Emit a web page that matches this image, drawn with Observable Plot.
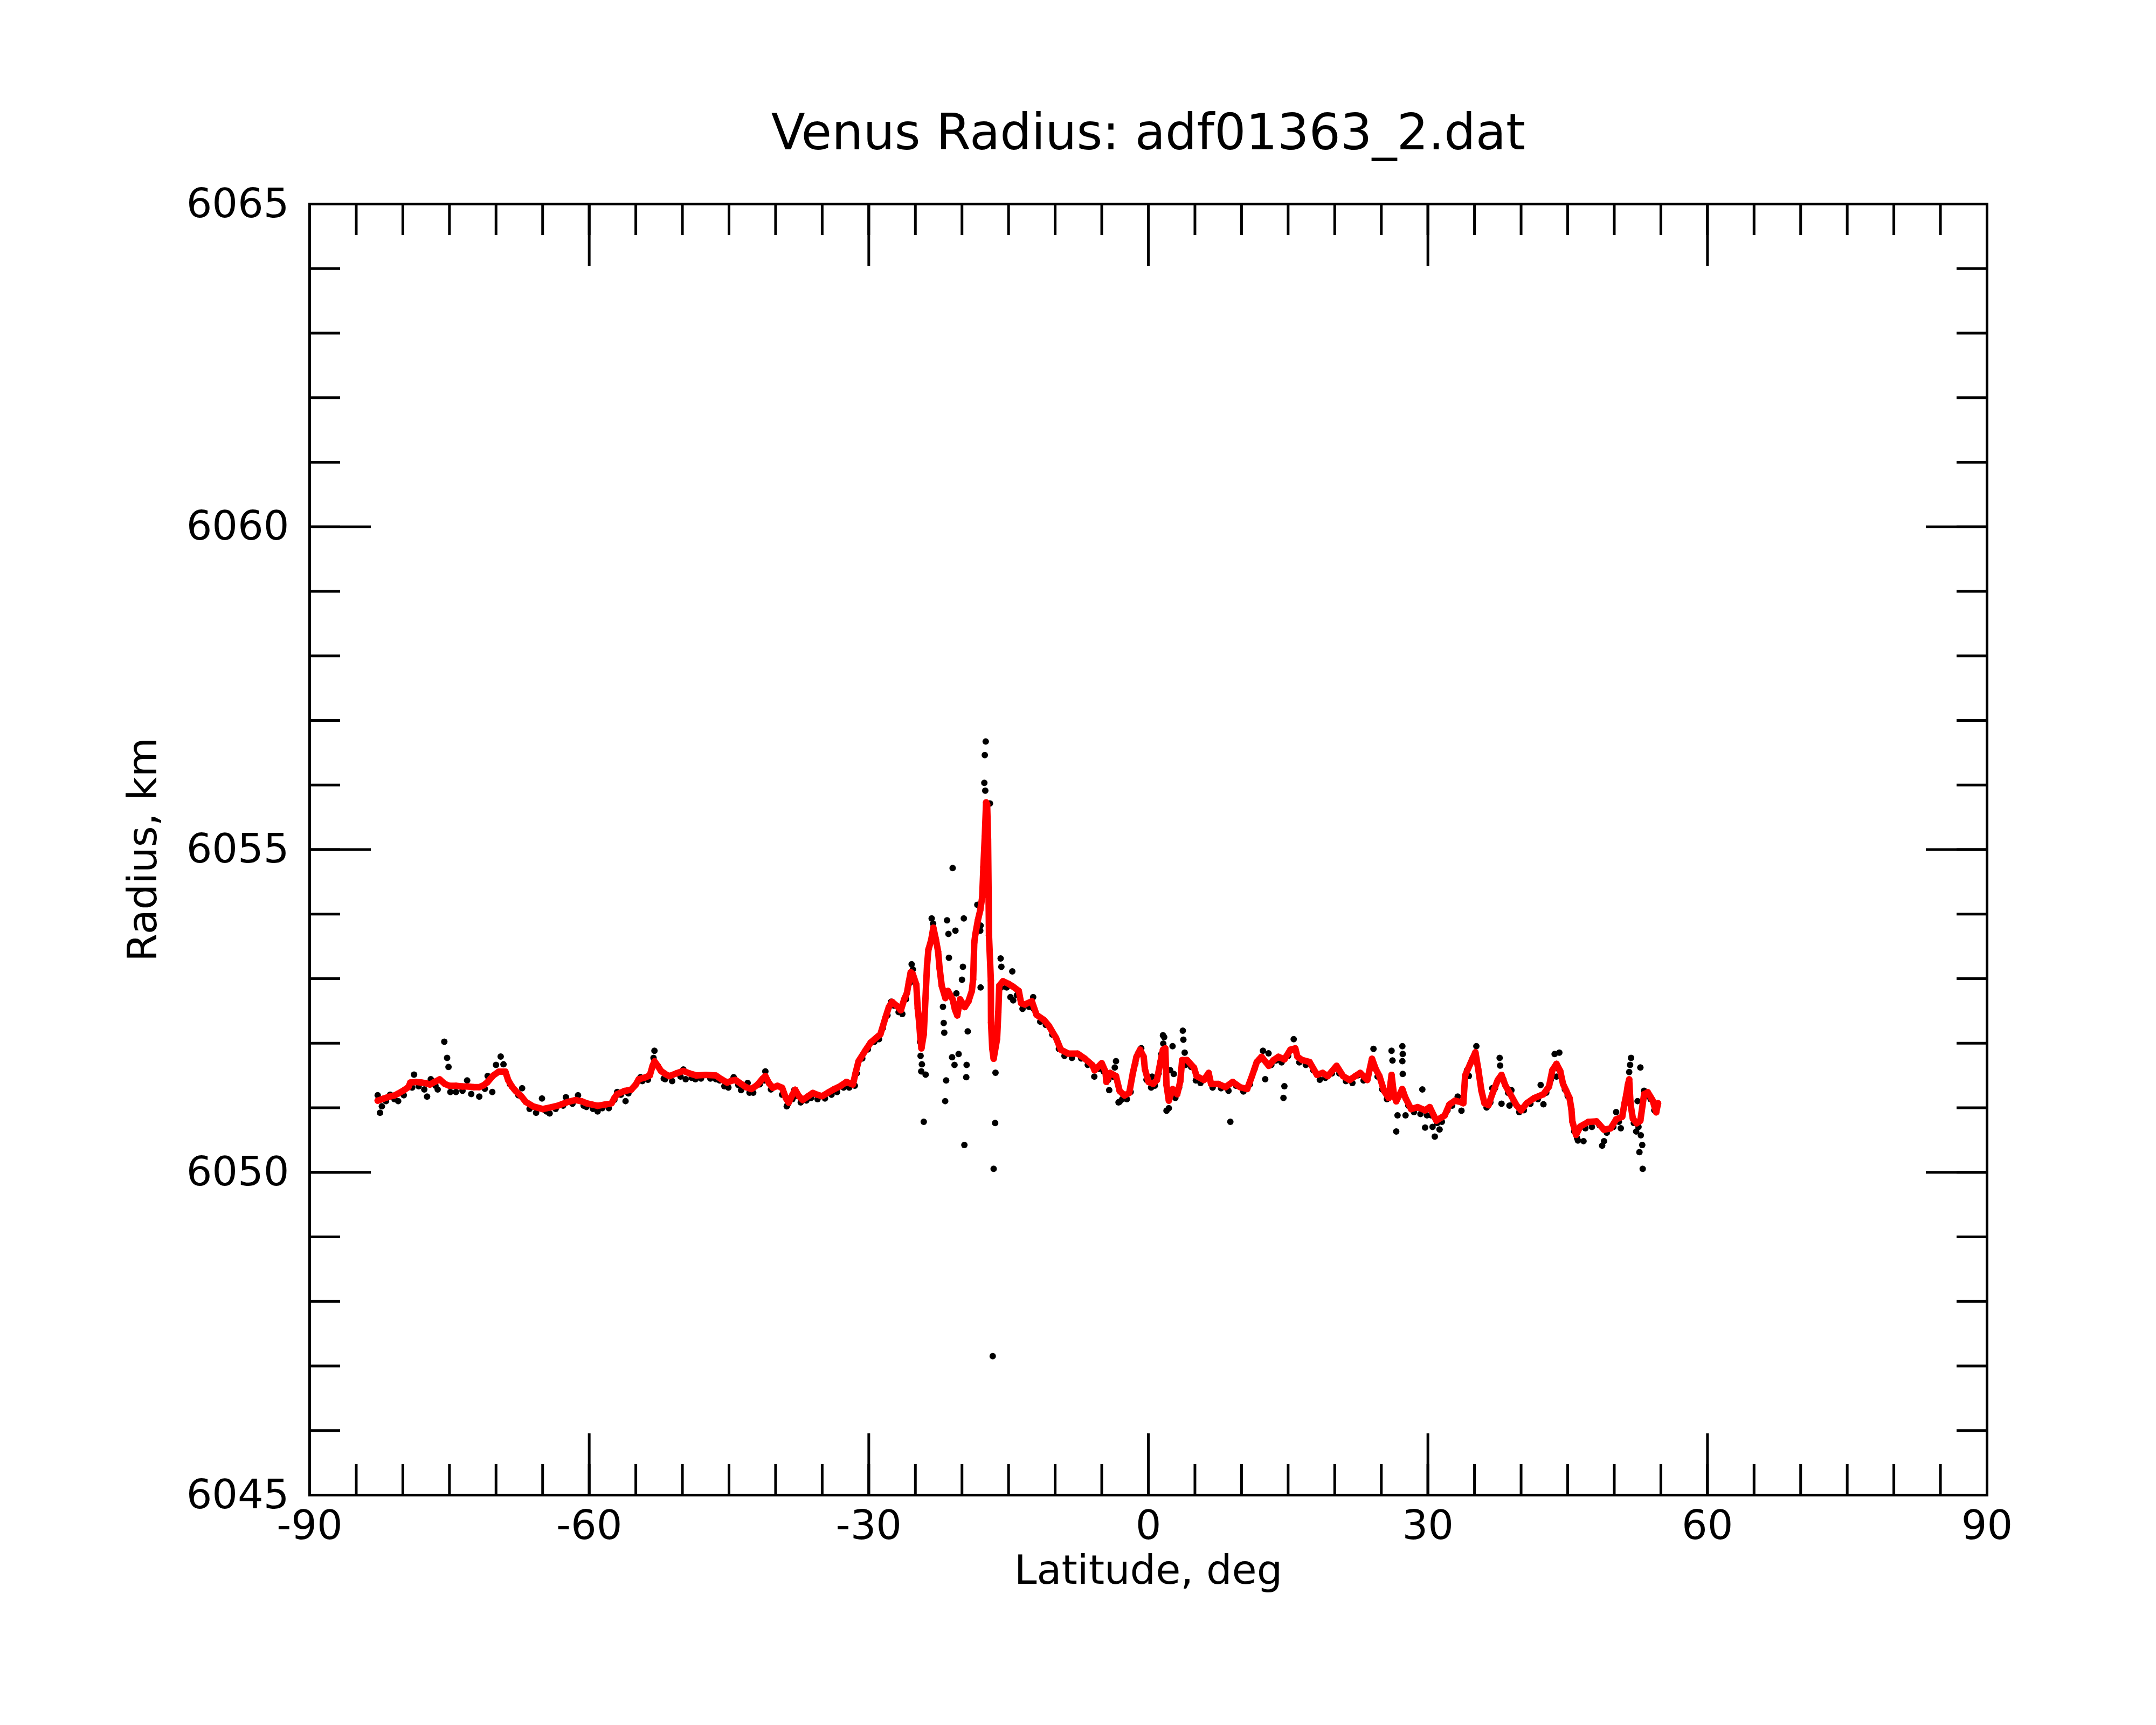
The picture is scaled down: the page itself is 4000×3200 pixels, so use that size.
<!DOCTYPE html>
<html><head><meta charset="utf-8">
<script src="https://cdn.jsdelivr.net/npm/d3@7"></script>
<script src="https://cdn.jsdelivr.net/npm/@observablehq/plot@0.6"></script>
<style>body{margin:0;background:#fff}</style>
</head><body><div id="chart"></div>
<script>
const titleText = "Venus Radius: adf01363_2.dat";
const xLabel = "Latitude, deg";
const yLabel = "Radius, km";
const xMajor = [-90,-60,-30,0,30,60,90];
const xMinor = d3.range(-90, 91, 5);
const yMajor = [6045,6050,6055,6060,6065];
const yMinor = d3.range(6045, 6066, 1);

// smoothed radius (red): [latitude, radius]
const smoothed = [[-82.7,6051.11],[-82.1,6051.14],[-81.5,6051.17],[-80.9,6051.19],[-80.5,6051.22],[-79.9,6051.27],[-79.4,6051.32],[-79.2,6051.39],[-78.6,6051.40],[-78.0,6051.39],[-77.5,6051.38],[-77.1,6051.36],[-76.6,6051.40],[-76.05,6051.44],[-75.5,6051.37],[-75.0,6051.34],[-74.3,6051.34],[-73.6,6051.33],[-73.0,6051.33],[-72.4,6051.32],[-71.8,6051.32],[-71.3,6051.35],[-70.9,6051.40],[-70.3,6051.50],[-69.7,6051.56],[-69.0,6051.56],[-68.7,6051.43],[-68.3,6051.33],[-67.9,6051.26],[-67.3,6051.18],[-66.8,6051.09],[-66.0,6051.02],[-65.0,6050.98],[-64.0,6051.01],[-63.2,6051.04],[-62.3,6051.09],[-61.45,6051.12],[-60.8,6051.10],[-60.3,6051.07],[-59.7,6051.05],[-59.1,6051.03],[-58.3,6051.05],[-57.6,6051.07],[-57.3,6051.15],[-57.0,6051.21],[-56.2,6051.26],[-55.5,6051.28],[-55.0,6051.36],[-54.7,6051.44],[-54.0,6051.47],[-53.5,6051.50],[-53.2,6051.65],[-53.0,6051.72],[-52.6,6051.64],[-52.3,6051.57],[-51.8,6051.52],[-51.4,6051.49],[-50.7,6051.53],[-49.9,6051.57],[-49.2,6051.53],[-48.5,6051.50],[-47.5,6051.51],[-46.4,6051.50],[-45.8,6051.44],[-45.2,6051.39],[-44.7,6051.42],[-44.3,6051.43],[-43.7,6051.37],[-43.2,6051.32],[-42.6,6051.29],[-42.0,6051.35],[-41.4,6051.45],[-41.1,6051.49],[-40.7,6051.38],[-40.3,6051.31],[-39.8,6051.34],[-39.3,6051.31],[-38.9,6051.15],[-38.6,6051.08],[-38.2,6051.20],[-37.9,6051.28],[-37.5,6051.18],[-37.1,6051.12],[-36.5,6051.18],[-36.0,6051.23],[-35.5,6051.20],[-35.0,6051.18],[-34.3,6051.24],[-33.7,6051.29],[-33.0,6051.34],[-32.4,6051.40],[-31.7,6051.36],[-31.4,6051.55],[-31.1,6051.72],[-30.4,6051.88],[-29.8,6052.01],[-28.75,6052.14],[-28.2,6052.40],[-27.85,6052.56],[-27.5,6052.64],[-27.0,6052.58],[-26.56,6052.51],[-26.2,6052.68],[-25.9,6052.78],[-25.7,6052.95],[-25.5,6053.10],[-25.27,6053.07],[-24.9,6052.91],[-24.75,6052.54],[-24.6,6052.33],[-24.5,6052.14],[-24.35,6051.92],[-24.1,6052.14],[-23.75,6053.20],[-23.6,6053.45],[-23.3,6053.60],[-23.07,6053.79],[-22.8,6053.61],[-22.56,6053.42],[-22.4,6053.16],[-22.17,6052.89],[-21.78,6052.70],[-21.5,6052.81],[-21.0,6052.68],[-20.75,6052.52],[-20.5,6052.43],[-20.2,6052.68],[-19.7,6052.56],[-19.3,6052.65],[-18.94,6052.81],[-18.8,6052.99],[-18.68,6053.56],[-18.56,6053.69],[-18.3,6053.90],[-18.04,6054.06],[-17.83,6054.26],[-17.7,6054.73],[-17.55,6055.20],[-17.41,6055.73],[-17.3,6055.70],[-17.2,6055.16],[-17.1,6053.67],[-16.9,6052.97],[-16.88,6052.32],[-16.75,6051.92],[-16.6,6051.76],[-16.23,6052.07],[-16.1,6052.48],[-16.0,6052.89],[-15.6,6052.96],[-15.0,6052.92],[-14.55,6052.88],[-13.9,6052.81],[-13.65,6052.62],[-13.26,6052.60],[-12.5,6052.65],[-12.0,6052.44],[-11.2,6052.36],[-10.68,6052.27],[-9.9,6052.08],[-9.39,6051.90],[-8.6,6051.84],[-7.6,6051.84],[-6.8,6051.76],[-6.0,6051.66],[-5.77,6051.58],[-5.0,6051.69],[-4.6,6051.56],[-4.5,6051.40],[-4.1,6051.54],[-3.47,6051.49],[-3.08,6051.26],[-2.56,6051.19],[-2.05,6051.23],[-1.66,6051.54],[-1.27,6051.79],[-0.89,6051.90],[-0.5,6051.79],[-0.37,6051.60],[0.02,6051.40],[0.53,6051.37],[0.92,6051.43],[1.31,6051.72],[1.57,6051.90],[1.82,6051.92],[1.95,6051.35],[2.2,6051.11],[2.6,6051.29],[3.1,6051.21],[3.43,6051.41],[3.63,6051.74],[4.15,6051.74],[4.9,6051.62],[5.18,6051.49],[5.96,6051.43],[6.47,6051.54],[6.73,6051.37],[7.5,6051.37],[8.28,6051.32],[9.05,6051.40],[9.83,6051.32],[10.6,6051.29],[11.12,6051.49],[11.64,6051.71],[12.15,6051.79],[12.93,6051.65],[13.44,6051.74],[13.96,6051.79],[14.6,6051.75],[15.25,6051.90],[15.77,6051.92],[16.0,6051.79],[16.5,6051.74],[17.3,6051.71],[18.1,6051.51],[18.7,6051.54],[19.25,6051.49],[20.2,6051.65],[20.9,6051.49],[21.6,6051.43],[22.2,6051.49],[22.74,6051.54],[23.5,6051.43],[24.0,6051.76],[24.4,6051.60],[24.8,6051.49],[25.3,6051.26],[25.8,6051.15],[26.1,6051.51],[26.35,6051.21],[26.6,6051.10],[27.25,6051.29],[27.6,6051.15],[28.2,6050.98],[28.9,6051.01],[29.7,6050.96],[30.2,6051.01],[30.9,6050.80],[31.8,6050.88],[32.3,6051.05],[32.9,6051.11],[33.5,6051.09],[33.8,6051.07],[34.0,6051.50],[34.6,6051.70],[35.1,6051.86],[35.4,6051.60],[35.75,6051.26],[36.07,6051.07],[36.5,6051.04],[36.9,6051.21],[37.5,6051.43],[37.9,6051.51],[38.3,6051.35],[38.85,6051.21],[39.5,6051.04],[40.0,6050.96],[40.6,6051.07],[41.4,6051.15],[42.4,6051.21],[43.0,6051.33],[43.35,6051.58],[43.8,6051.68],[44.2,6051.57],[44.5,6051.37],[44.85,6051.26],[45.2,6051.15],[45.4,6050.98],[45.5,6050.79],[45.9,6050.58],[46.35,6050.71],[47.2,6050.78],[48.1,6050.79],[48.9,6050.66],[49.6,6050.68],[50.2,6050.82],[50.85,6050.86],[51.1,6051.07],[51.3,6051.21],[51.45,6051.35],[51.6,6051.44],[51.75,6051.05],[52.0,6050.83],[52.4,6050.76],[52.8,6050.80],[53.2,6051.21],[53.6,6051.24],[54.1,6051.12],[54.5,6050.93],[54.7,6051.07]];

// raw radius samples (black): [latitude, radius]
const raw = [[-82.7,6051.21],[-82.45,6050.94],[-82.25,6051.04],[-81.8,6051.12],[-81.36,6051.22],[-80.9,6051.15],[-80.5,6051.12],[-79.9,6051.21],[-79.0,6051.33],[-78.8,6051.53],[-78.3,6051.35],[-77.7,6051.30],[-77.4,6051.19],[-77.0,6051.46],[-76.5,6051.36],[-76.26,6051.30],[-75.55,6052.04],[-75.25,6051.79],[-75.1,6051.65],[-74.9,6051.26],[-74.3,6051.26],[-73.6,6051.28],[-73.1,6051.44],[-72.66,6051.23],[-71.8,6051.19],[-71.2,6051.31],[-70.9,6051.51],[-70.4,6051.26],[-70.0,6051.68],[-69.5,6051.81],[-69.2,6051.69],[-68.5,6051.38],[-67.6,6051.21],[-67.2,6051.32],[-66.4,6051.00],[-65.7,6050.94],[-65.07,6051.16],[-64.6,6050.96],[-64.25,6050.93],[-63.6,6051.00],[-62.8,6051.05],[-62.5,6051.18],[-61.8,6051.08],[-61.2,6051.21],[-60.6,6051.05],[-60.3,6051.03],[-59.6,6051.00],[-59.1,6050.96],[-58.6,6051.01],[-57.9,6051.01],[-57.3,6051.14],[-57.0,6051.26],[-56.6,6051.22],[-56.1,6051.12],[-55.8,6051.24],[-54.5,6051.49],[-54.3,6051.43],[-53.7,6051.45],[-53.1,6051.79],[-53.0,6051.90],[-52.0,6051.47],[-51.85,6051.46],[-51.1,6051.43],[-50.2,6051.50],[-49.9,6051.61],[-49.65,6051.46],[-49.0,6051.48],[-48.6,6051.46],[-48.0,6051.47],[-47.0,6051.47],[-46.4,6051.46],[-46.0,6051.44],[-45.5,6051.35],[-45.07,6051.33],[-44.5,6051.49],[-44.0,6051.37],[-43.7,6051.29],[-43.0,6051.40],[-42.8,6051.25],[-42.4,6051.25],[-41.7,6051.38],[-41.2,6051.44],[-41.1,6051.58],[-40.5,6051.30],[-39.75,6051.35],[-39.3,6051.22],[-38.8,6051.04],[-38.7,6051.07],[-38.2,6051.15],[-38.0,6051.29],[-37.7,6051.20],[-37.3,6051.10],[-36.7,6051.13],[-36.2,6051.17],[-35.5,6051.15],[-34.7,6051.16],[-34.0,6051.22],[-33.4,6051.26],[-32.7,6051.33],[-32.1,6051.33],[-31.5,6051.36],[-31.3,6051.55],[-30.7,6051.78],[-30.1,6051.92],[-29.4,6052.04],[-28.9,6052.08],[-28.5,6052.25],[-28.0,6052.45],[-27.6,6052.66],[-27.3,6052.60],[-26.8,6052.50],[-26.4,6052.47],[-26.0,6052.70],[-25.6,6052.95],[-25.4,6053.24],[-25.27,6053.16],[-24.5,6052.04],[-24.44,6051.82],[-24.37,6051.58],[-24.3,6051.69],[-24.1,6050.80],[-23.9,6051.53],[-23.25,6053.95],[-23.1,6053.87],[-22.04,6052.58],[-21.96,6052.33],[-21.9,6052.18],[-21.8,6051.12],[-21.7,6051.44],[-21.6,6053.92],[-21.45,6053.71],[-21.4,6053.34],[-21.06,6051.80],[-21.0,6054.73],[-20.8,6051.68],[-20.7,6053.76],[-20.6,6052.79],[-20.36,6051.85],[-20.0,6053.00],[-19.9,6053.20],[-19.8,6053.95],[-19.74,6050.44],[-19.54,6051.49],[-19.5,6051.68],[-19.38,6052.20],[-18.35,6054.16],[-18.04,6053.76],[-18.0,6053.84],[-18.0,6052.88],[-17.6,6056.05],[-17.55,6056.48],[-17.45,6056.69],[-17.5,6055.93],[-17.35,6055.73],[-17.0,6055.73],[-16.6,6050.07],[-16.7,6047.17],[-16.44,6050.78],[-16.4,6051.56],[-15.85,6053.33],[-15.77,6053.20],[-15.8,6052.88],[-15.2,6052.88],[-14.8,6052.73],[-14.6,6053.13],[-14.5,6052.68],[-14.1,6052.76],[-13.5,6052.55],[-12.8,6052.58],[-12.36,6052.73],[-12.3,6052.55],[-11.6,6052.35],[-11.0,6052.30],[-10.3,6052.15],[-9.6,6051.93],[-9.0,6051.82],[-8.2,6051.79],[-7.2,6051.78],[-6.5,6051.68],[-5.8,6051.50],[-5.3,6051.62],[-4.8,6051.58],[-4.3,6051.45],[-4.2,6051.29],[-3.8,6051.50],[-3.6,6051.64],[-3.47,6051.74],[-3.2,6051.10],[-3.08,6051.11],[-2.8,6051.15],[-2.3,6051.15],[-1.9,6051.26],[-1.4,6051.70],[-1.1,6051.86],[-0.76,6051.94],[-0.7,6051.85],[-0.2,6051.45],[0.3,6051.33],[0.4,6051.50],[0.7,6051.36],[1.1,6051.55],[1.4,6051.85],[1.57,6052.14],[1.7,6052.11],[1.6,6052.01],[1.95,6050.97],[2.2,6051.01],[2.34,6051.60],[2.6,6051.97],[2.73,6051.54],[2.9,6051.17],[3.3,6051.33],[3.7,6052.21],[3.76,6052.07],[3.9,6051.87],[4.0,6051.68],[4.6,6051.65],[5.1,6051.44],[5.6,6051.40],[6.2,6051.48],[6.9,6051.33],[7.8,6051.32],[8.6,6051.28],[8.8,6050.80],[9.4,6051.36],[10.2,6051.27],[10.9,6051.38],[11.4,6051.62],[11.9,6051.76],[12.3,6051.90],[12.54,6051.46],[12.9,6051.86],[13.2,6051.68],[13.7,6051.75],[14.3,6051.72],[14.5,6051.17],[14.6,6051.35],[15.0,6051.82],[15.6,6052.08],[16.2,6051.72],[16.9,6051.68],[17.7,6051.60],[18.4,6051.45],[19.0,6051.48],[19.7,6051.55],[20.5,6051.55],[21.2,6051.43],[21.9,6051.40],[22.5,6051.52],[23.1,6051.44],[23.8,6051.62],[24.16,6051.93],[24.6,6051.50],[25.1,6051.30],[25.6,6051.15],[26.0,6051.40],[26.1,6051.90],[26.2,6051.75],[26.6,6050.65],[26.74,6050.90],[26.9,6051.20],[27.26,6051.97],[27.3,6051.85],[27.26,6051.74],[27.3,6051.54],[27.4,6051.22],[27.6,6050.90],[27.9,6051.05],[28.5,6050.95],[29.2,6050.92],[29.4,6051.30],[29.7,6050.71],[29.9,6050.90],[30.35,6050.90],[30.5,6050.72],[30.74,6050.57],[31.0,6050.78],[31.25,6050.68],[31.5,6050.80],[32.1,6050.98],[32.6,6051.05],[33.2,6051.19],[33.6,6050.97],[34.2,6051.60],[34.4,6051.51],[34.8,6051.78],[35.2,6051.97],[35.6,6051.45],[36.3,6051.02],[36.7,6051.10],[36.9,6051.32],[37.2,6051.32],[37.7,6051.79],[37.75,6051.67],[37.9,6051.08],[38.1,6051.45],[38.6,6051.25],[38.75,6051.05],[38.96,6051.29],[39.2,6051.10],[39.8,6050.95],[40.3,6050.98],[41.0,6051.08],[41.8,6051.15],[42.1,6051.37],[42.4,6051.07],[42.7,6051.25],[43.2,6051.45],[43.6,6051.85],[43.8,6051.50],[44.0,6051.62],[44.1,6051.87],[44.7,6051.30],[45.0,6051.20],[45.7,6050.65],[46.0,6050.55],[46.1,6050.51],[46.7,6050.50],[46.9,6050.70],[47.6,6050.72],[48.4,6050.75],[48.7,6050.43],[48.9,6050.50],[49.2,6050.63],[49.9,6050.72],[50.2,6050.95],[50.5,6050.80],[50.7,6050.70],[51.2,6051.10],[51.6,6051.57],[51.7,6051.68],[51.8,6051.79],[52.1,6050.78],[52.35,6050.65],[52.5,6051.12],[52.6,6050.72],[52.7,6050.33],[52.8,6051.64],[52.85,6050.59],[53.0,6050.44],[53.05,6050.07],[53.2,6051.28],[53.4,6051.20],[53.9,6051.15],[54.3,6050.98]];

const red = smoothed.map(([lat, r]) => ({lat, r}));
const black = raw.map(([lat, r]) => ({lat, r}));

const FONT = "DejaVu Sans";
const SW = 5;
const chart = Plot.plot({
  width: 4000, height: 3200,
  marginLeft: 574, marginRight: 314, marginTop: 378, marginBottom: 427,
  style: {fontFamily: FONT, background: "white", color: "black"},
  x: {domain: [-90, 90], label: null},
  y: {domain: [6045, 6065], label: null},
  marks: [
    Plot.dot(black, {x: "lat", y: "r", r: 6, fill: "black", dy: 2}),
    Plot.line(red, {x: "lat", y: "r", stroke: "#ff0000", strokeWidth: 12, curve: "linear", strokeLinejoin: "round", strokeLinecap: "round"}),
    Plot.dot(red, {x: "lat", y: "r", r: 6, fill: "#ff0000"}),
    // ticks (inward) on all sides
    Plot.axisX({anchor: "bottom", ticks: xMinor, tickSize: -57, tickFormat: () => "", strokeWidth: SW, label: null}),
    Plot.axisX({anchor: "bottom", ticks: xMajor, tickSize: -114, tickFormat: () => "", strokeWidth: SW, label: null}),
    Plot.axisX({anchor: "top", ticks: xMinor, tickSize: -57, tickFormat: () => "", strokeWidth: SW, label: null}),
    Plot.axisX({anchor: "top", ticks: xMajor, tickSize: -114, tickFormat: () => "", strokeWidth: SW, label: null}),
    Plot.axisY({anchor: "left", ticks: yMinor, tickSize: -57, tickFormat: () => "", strokeWidth: SW, label: null}),
    Plot.axisY({anchor: "left", ticks: yMajor, tickSize: -114, tickFormat: () => "", strokeWidth: SW, label: null}),
    Plot.axisY({anchor: "right", ticks: yMinor, tickSize: -57, tickFormat: () => "", strokeWidth: SW, label: null}),
    Plot.axisY({anchor: "right", ticks: yMajor, tickSize: -114, tickFormat: () => "", strokeWidth: SW, label: null}),
    // tick labels
    Plot.axisX({anchor: "bottom", ticks: xMajor, tickSize: 0, tickPadding: 28, fontSize: 75, tickFormat: d => String(d), label: null}),
    Plot.axisY({anchor: "left", ticks: yMajor, tickSize: 0, tickPadding: 38, fontSize: 75, tickFormat: d => String(d), label: null}),
    Plot.frame({stroke: "black", strokeWidth: SW}),
    // titles
    Plot.text([titleText], {frameAnchor: "top", dy: -131, fontSize: 92, lineAnchor: "middle", textAnchor: "middle", fill: "black"}),
    Plot.text([xLabel], {frameAnchor: "bottom", dy: 140, fontSize: 75, lineAnchor: "middle", textAnchor: "middle", fill: "black"}),
    Plot.text([yLabel], {frameAnchor: "left", dx: -309, rotate: -90, fontSize: 75, lineAnchor: "middle", textAnchor: "middle", fill: "black"})
  ]
});
document.getElementById("chart").append(chart);
</script>
</body></html>
